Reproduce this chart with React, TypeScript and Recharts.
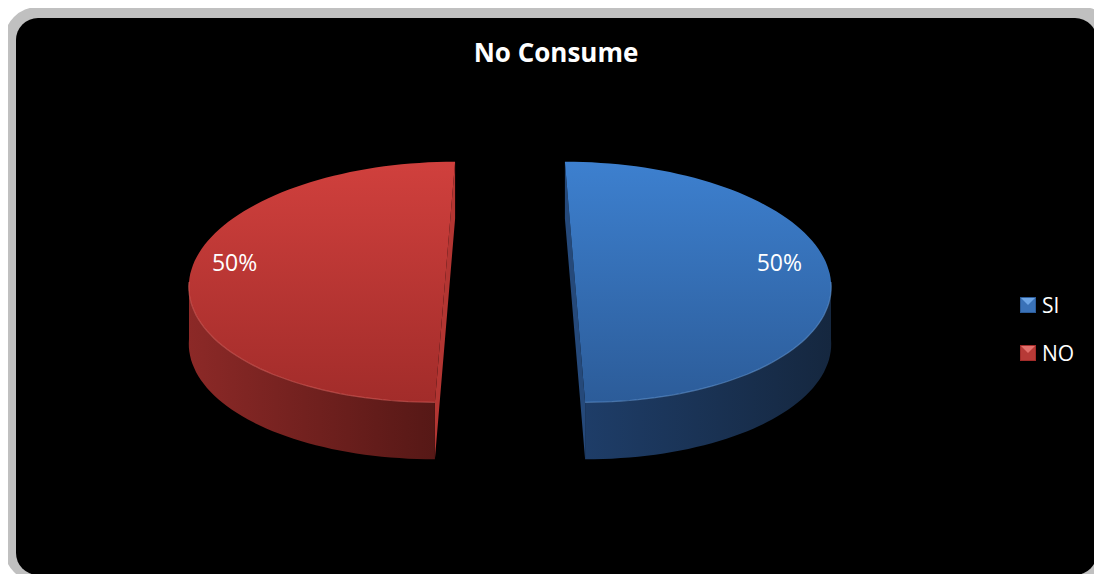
import { Cell, Legend, Pie, PieChart } from "recharts";

const categories = ["SI", "NO"];
const shares = [50, 50];

const data = categories.map((name, i) => ({ name, value: shares[i] }));

const palette: Record<string, any> = {
    SI: { top: "#3d80cf", topEnd: "#2c5c99", side: "#1e3d68", sideEnd: "#15273f", cut: "#25497a", rim: "#6a9fdc", legend: "#3a72b8", legendHi: "#6ea6e6" },
    NO: { top: "#d0403d", topEnd: "#a22c2a", side: "#8c2927", sideEnd: "#561816", cut: "#b33532", rim: "#e06663", legend: "#b73a37", legendHi: "#e3706c" }
};

const FONT = "'Open Sans', 'Liberation Sans', sans-serif";
const RAD = Math.PI / 180;
const TILT = 0.47;
const DEPTH = 57;
const EXPLODE = 65;
const PERSP = 0.155;

function renderSlice(props: any) {
    const { cx, cy, outerRadius: R, startAngle, endAngle, midAngle, percent, index } = props;
    const name = props.payload?.name ?? props.name;
    const c = palette[name];
    const ex = EXPLODE * Math.cos(midAngle * RAD);
    const ez = EXPLODE * Math.sin(midAngle * RAD);
    // slice offset shrinks toward the back and grows toward the front (fake perspective)
    const pt = (dx: number, dz: number, h = 0) => {
        const Z = ez + dz;
        const s = 1 - (PERSP * Z) / R;
        return [cx + ex * s + dx, cy - Z * TILT + h];
    };
    const rim = (a: number, h = 0) => pt(R * Math.cos(a * RAD), R * Math.sin(a * RAD), h);
    const fmt = (p: number[]) => `${p[0].toFixed(1)},${p[1].toFixed(1)}`;

    const steps = Math.ceil(Math.abs(endAngle - startAngle) / 2);
    const angles = Array.from({ length: steps + 1 }, (_, i) => startAngle + ((endAngle - startAngle) * i) / steps);
    const front = angles.filter((a) => Math.sin(a * RAD) <= 1e-6);

    const center = pt(0, 0);
    const centerLow = pt(0, 0, DEPTH);
    const topPath = `M${fmt(center)} L${angles.map((a) => fmt(rim(a))).join(" L")} Z`;
    const wallPath =
        `M${front.map((a) => fmt(rim(a))).join(" L")} L` +
        [...front].reverse().map((a) => fmt(rim(a, DEPTH))).join(" L") +
        " Z";
    const rimPath = `M${front.map((a) => fmt(rim(a))).join(" L")}`;
    const cutPath = [startAngle, endAngle]
        .map((a) => `M${fmt(center)} L${fmt(rim(a))} L${fmt(rim(a, DEPTH))} L${fmt(centerLow)} Z`)
        .join(" ");

    const labelPos = pt(0.81 * R * Math.cos(midAngle * RAD), 0.81 * R * Math.sin(midAngle * RAD));

    return (
        <g>
            <defs>
                <linearGradient id={`top-${index}`} x1="0" y1="0" x2="0" y2="1">
                    <stop offset="0%" stopColor={c.top} />
                    <stop offset="100%" stopColor={c.topEnd} />
                </linearGradient>
                <linearGradient id={`side-${index}`} x1="0" y1="0" x2="1" y2="0">
                    <stop offset="0%" stopColor={c.side} />
                    <stop offset="100%" stopColor={c.sideEnd} />
                </linearGradient>
            </defs>
            <path d={cutPath} fill={c.cut} />
            <path d={wallPath} fill={`url(#side-${index})`} />
            <path d={topPath} fill={`url(#top-${index})`} />
            <path d={rimPath} fill="none" stroke={c.rim} strokeOpacity={0.55} strokeWidth={1.2} />
            <text
                x={labelPos[0] - 3}
                y={labelPos[1] - 11}
                textAnchor="middle"
                fill="#ffffff"
                fontFamily={FONT}
                fontSize={23}
            >
                {`${Math.round(percent * 100)}%`}
            </text>
        </g>
    );
}

function renderLegend(props: any) {
    const items = [...(props.payload || [])].sort(
        (a: any, b: any) => categories.indexOf(a.value) - categories.indexOf(b.value)
    );
    return (
        <div>
            {items.map((entry: any) => {
                const c = palette[entry.value];
                return (
                    <div key={entry.value} style={{ display: "flex", alignItems: "center", height: 48 }}>
                        <svg width={16} height={16}>
                            <rect x={0} y={0} width={16} height={16} fill={c.legend} />
                            <polygon points="1,1 15,1 8,8" fill={c.legendHi} />
                            <rect x={0.5} y={0.5} width={15} height={15} fill="none" stroke={c.topEnd} />
                        </svg>
                        <span style={{ marginLeft: 6, color: "#ffffff", fontSize: 21, fontFamily: FONT }}>
                            {entry.value}
                        </span>
                    </div>
                );
            })}
        </div>
    );
}

export default function App() {
    return (
        <div style={{ position: "relative", width: 1102, height: 582, margin: -8, overflow: "hidden", background: "#ffffff" }}>
            <div style={{ position: "absolute", left: 4, top: 7, width: 1112, height: 575, borderRadius: 34, background: "#c0c0c0" }} />
            <div style={{ position: "absolute", left: 16, top: 18, width: 1081, height: 557, borderRadius: 22, background: "#000000" }} />
            <div
                style={{
                    position: "absolute",
                    left: 356,
                    top: 39,
                    width: 400,
                    textAlign: "center",
                    color: "#ffffff",
                    fontFamily: FONT,
                    fontWeight: 700,
                    fontSize: 26,
                    lineHeight: "26px"
                }}
            >
                No Consume
            </div>
            <div style={{ position: "absolute", left: 0, top: 0 }}>
                <PieChart width={1102} height={582} margin={{ top: 0, right: 0, bottom: 0, left: 0 }}>
                    <Pie
                        data={data}
                        dataKey="value"
                        nameKey="name"
                        cx={510}
                        cy={282}
                        outerRadius={256}
                        startAngle={90}
                        endAngle={-270}
                        fillOpacity={0}
                        stroke="none"
                        label={renderSlice}
                        labelLine={false}
                        isAnimationActive={false}
                    >
                        {data.map((entry) => (
                            <Cell key={entry.name} fill={palette[entry.name].legend} />
                        ))}
                    </Pie>
                    <Legend
                        layout="vertical"
                        content={renderLegend}
                        wrapperStyle={{ left: 1020, top: 281, width: 80 }}
                    />
                </PieChart>
            </div>
        </div>
    );
}
